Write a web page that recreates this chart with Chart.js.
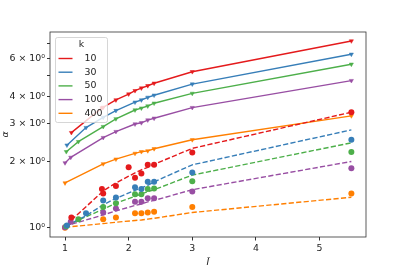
<!DOCTYPE html>
<html lang="en">
<head>
<meta charset="utf-8">
<title>alpha vs I bar</title>
<script src="https://cdn.jsdelivr.net/npm/chart.js@4.4.0/dist/chart.umd.min.js"></script>
<style>
  html, body { margin: 0; padding: 0; background: #fff; }
  #wrap { width: 407px; height: 271px; }
</style>
</head>
<body>
<div id="wrap"><canvas id="chart" width="407" height="271"></canvas></div>
<script>
// k values and colours (Set1)
var kLabels = ['10', '30', '50', '100', '400'];
var colors = ['#e41a1c', '#377eb8', '#4daf4a', '#984ea3', '#ff7f00'];

// x values (I bar) per k
var iBar10  = [1.1, 1.58, 1.6, 1.8, 2.0, 2.1, 2.2, 2.3, 2.4, 3.0, 5.5];
var iBar30  = [1.03, 1.33, 1.6, 1.8, 2.1, 2.2, 2.3, 2.4, 3.0, 5.5];
var iBar50  = [1.02, 1.21, 1.6, 1.8, 2.1, 2.2, 2.3, 2.4, 3.0, 5.5];
var iBar100 = [1.0, 1.09, 1.6, 1.8, 2.1, 2.2, 2.3, 2.4, 3.0, 5.5];
var iBar400 = [1.0, 1.6, 1.8, 2.1, 2.2, 2.3, 2.4, 3.0, 5.5];

// solid lines with triangle markers
var upper10  = [2.73, 3.55, 3.57, 3.86, 4.11, 4.26, 4.38, 4.49, 4.61, 5.21, 7.22];
var upper30  = [2.39, 2.88, 3.21, 3.45, 3.77, 3.86, 3.97, 4.06, 4.57, 6.27];
var upper50  = [2.23, 2.48, 2.91, 3.16, 3.47, 3.54, 3.62, 3.73, 4.14, 5.64];
var upper100 = [1.98, 2.10, 2.59, 2.76, 2.99, 3.03, 3.12, 3.18, 3.56, 4.74];
var upper400 = [1.60, 1.96, 2.06, 2.19, 2.23, 2.25, 2.30, 2.53, 3.26];

// dashed lines
var model10  = [1.08, 1.45, 1.47, 1.60, 1.72, 1.78, 1.84, 1.89, 1.95, 2.31, 3.39];
var model30  = [1.02, 1.13, 1.27, 1.36, 1.48, 1.52, 1.56, 1.62, 1.94, 2.81];
var model50  = [1.01, 1.08, 1.21, 1.29, 1.39, 1.42, 1.46, 1.49, 1.74, 2.45];
var model100 = [1.0, 1.03, 1.14, 1.19, 1.26, 1.28, 1.31, 1.33, 1.49, 2.01];
var model400 = [1.0, 1.04, 1.055, 1.075, 1.08, 1.09, 1.10, 1.17, 1.375];

// dots
var obs10  = [1.11, 1.50, 1.43, 1.55, 1.89, 1.69, 1.77, 1.94, 1.94, 2.21, 3.39];
var obs30  = [1.02, 1.16, 1.33, 1.37, 1.53, 1.50, 1.62, 1.62, 1.79, 2.53];
var obs50  = [1.01, 1.09, 1.24, 1.29, 1.42, 1.42, 1.50, 1.51, 1.63, 2.22];
var obs100 = [1.0, 1.06, 1.17, 1.22, 1.31, 1.31, 1.36, 1.36, 1.46, 1.87];
var obs400 = [0.995, 1.09, 1.11, 1.16, 1.16, 1.17, 1.18, 1.24, 1.43];

var yTicks = [1, 2, 3, 4, 5, 6, 7];
var yLabelled = [1, 2, 3, 4, 6];
var xTicks = [1, 2, 3, 4, 5];

var xs = [iBar10, iBar30, iBar50, iBar100, iBar400];
var uppers = [upper10, upper30, upper50, upper100, upper400];
var models = [model10, model30, model50, model100, model400];
var obss = [obs10, obs30, obs50, obs100, obs400];

function pts(x, y) {
  return x.map(function (v, i) { return {x: v, y: y[i]}; });
}

var FONT = '"DejaVu Sans", sans-serif';
var datasets = [];
for (var i = 0; i < kLabels.length; i++) {
  datasets.push({
    label: kLabels[i],
    data: pts(xs[i], uppers[i]),
    borderColor: colors[i], backgroundColor: colors[i],
    borderWidth: 1.4, showLine: true, fill: false,
    pointStyle: 'triangle', rotation: 180, pointRadius: 2.4, pointBorderWidth: 0.5,
    order: 3
  });
}
for (var i = 0; i < kLabels.length; i++) {
  datasets.push({
    label: kLabels[i] + ' model',
    data: pts(xs[i], models[i]),
    borderColor: colors[i], borderWidth: 1.4, borderDash: [5.2, 2.3],
    showLine: true, fill: false, pointRadius: 0,
    order: 2
  });
}
for (var i = 0; i < kLabels.length; i++) {
  datasets.push({
    label: kLabels[i] + ' data',
    data: pts(xs[i], obss[i]),
    borderColor: colors[i], backgroundColor: colors[i],
    showLine: false, pointRadius: 3, pointBorderWidth: 0,
    order: 1
  });
}

// matplotlib style box round the axes
var framePlugin = {
  id: 'frame',
  afterDraw: function (chart) {
    var a = chart.chartArea, ctx = chart.ctx;
    ctx.save();
    ctx.strokeStyle = '#333';
    ctx.lineWidth = 0.8;
    ctx.strokeRect(a.left, a.top, a.right - a.left, a.bottom - a.top);
    ctx.restore();
  }
};

// legend box in the upper left corner
var legendPlugin = {
  id: 'boxLegend',
  afterDraw: function (chart) {
    var ctx = chart.ctx;
    var x0 = 55, y0 = 37, w = 52, h = 85;
    ctx.save();
    ctx.fillStyle = 'rgba(255,255,255,0.8)';
    ctx.strokeStyle = '#ccc';
    ctx.lineWidth = 0.8;
    ctx.beginPath();
    ctx.roundRect(x0 + 0.5, y0 + 0.5, w, h, 2);
    ctx.fill();
    ctx.stroke();
    ctx.fillStyle = '#222';
    ctx.font = '9.4px ' + FONT;
    ctx.textAlign = 'center';
    ctx.textBaseline = 'middle';
    ctx.fillText('k', x0 + w / 2 + 0.5, 45);
    ctx.textAlign = 'left';
    for (var i = 0; i < kLabels.length; i++) {
      var yy = 58.5 + i * 13.7;
      ctx.strokeStyle = colors[i];
      ctx.lineWidth = 1.4;
      ctx.beginPath();
      ctx.moveTo(58.5, yy);
      ctx.lineTo(72.5, yy);
      ctx.stroke();
      ctx.fillText(kLabels[i], 84.5, yy);
    }
    ctx.restore();
  }
};

new Chart(document.getElementById('chart'), {
  type: 'scatter',
  data: {datasets: datasets},
  plugins: [framePlugin, legendPlugin],
  options: {
    responsive: false,
    animation: false,
    layout: {padding: {top: 32, right: 41, left: 0, bottom: 0}},
    plugins: {legend: {display: false}, tooltip: {enabled: false}},
    scales: {
      x: {
        type: 'linear', min: 0.764, max: 5.73,
        afterBuildTicks: function (s) { s.ticks = xTicks.map(function (v) { return {value: v}; }); },
        afterFit: function (s) { s.height = 34; },
        grid: {drawOnChartArea: false, drawTicks: true, tickLength: 3.5, color: '#333'},
        border: {display: false},
        ticks: {color: '#222', font: {family: FONT, size: 9.4}, padding: 2, maxRotation: 0,
          callback: function (v) { return String(v); }},
        title: {display: true, text: 'I\u0304', color: '#222', padding: {top: 1, bottom: 3},
          font: {family: FONT, size: 9.4, style: 'italic'}}
      },
      y: {
        type: 'logarithmic', min: 0.902, max: 7.94,
        afterBuildTicks: function (s) { s.ticks = yTicks.map(function (v) { return {value: v}; }); },
        afterFit: function (s) { s.width = 50; },
        grid: {drawOnChartArea: false, drawTicks: true, tickLength: 3, color: '#333'},
        border: {display: false},
        ticks: {color: '#222', font: {family: FONT, size: 9.4}, padding: 2,
          callback: function (v) {
            if (yLabelled.indexOf(v) < 0) return '';
            return v === 1 ? '10\u2070' : v + ' \u00d7 10\u2070';
          }},
        title: {display: true, text: 'α', color: '#222', padding: {top: 0, bottom: 0},
          font: {family: FONT, size: 9.4, style: 'italic'}}
      }
    }
  }
});
</script>
</body>
</html>
